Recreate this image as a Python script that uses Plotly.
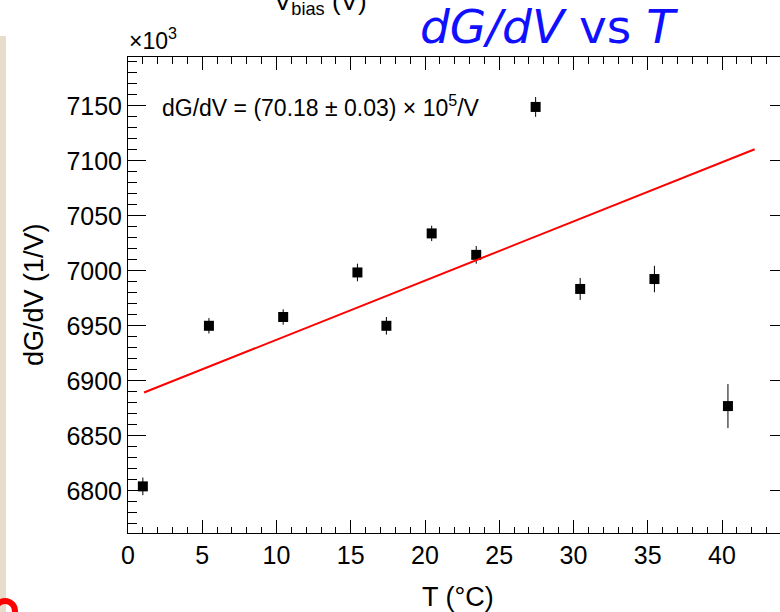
import plotly.graph_objects as go

# ---- data ----
temps = [1.0, 5.45, 10.45, 15.45, 17.4, 20.45, 23.45, 27.45, 30.45, 35.45, 40.4]
dgdv = [6804, 6950, 6958, 6998.5, 6950, 7034, 7014.5, 7149, 6983.5, 6992.5, 6877]
dgdv_err = [8, 7, 7, 8, 8, 7, 8, 9, 10, 12, 20]
fit_t = [1.08, 42.2]
fit_dgdv = [6889.3, 7110.5]
x_ticks = [0, 5, 10, 15, 20, 25, 30, 35, 40]
x_ticktext = [str(v) for v in x_ticks]
y_ticks = [6800, 6850, 6900, 6950, 7000, 7050, 7100, 7150]
y_ticktext = [str(v) for v in y_ticks]

# ---- layout helpers (pixel -> paper) ----
W, H = 780, 612
L, T, R, B = 128, 57, 780, 533
def px(x):
    return (x - L) / (R - L)
def py(y):
    return (B - y) / (B - T)

XR = [0, 43.906]
YR = [6761.6, 7194.4]
FONT = "Liberation Sans, Arial, sans-serif"

fig = go.Figure()
fig.add_trace(go.Scatter(
    x=temps, y=dgdv, mode="markers",
    marker=dict(symbol="square", size=10, color="black"),
    error_y=dict(type="data", array=dgdv_err, visible=True, color="black", thickness=1, width=0),
    showlegend=False, hoverinfo="x+y"))
fig.add_trace(go.Scatter(
    x=fit_t, y=fit_dgdv, mode="lines", xaxis="x2", yaxis="y2",
    line=dict(color="#ff0000", width=2), showlegend=False))

axis_common = dict(showgrid=False, zeroline=False, linecolor="black", linewidth=1,
                   tickcolor="black", tickwidth=1)
fig.update_layout(
    width=W, height=H, template="none",
    paper_bgcolor="white", plot_bgcolor="white",
    margin=dict(l=L, r=W - R, t=T, b=H - B, pad=0),
    font=dict(family=FONT, color="black"),
    xaxis=dict(range=XR, showline=True, ticks="inside", ticklen=13,
               tickvals=x_ticks, ticktext=x_ticktext, tickfont=dict(size=25, family=FONT),
               minor=dict(ticks="inside", ticklen=6, dtick=1, tick0=0, tickcolor="black", showgrid=False),
               **axis_common),
    xaxis2=dict(range=XR, overlaying="x", side="top", showline=True, ticks="inside", ticklen=13,
                tickvals=x_ticks, showticklabels=False,
                minor=dict(ticks="inside", ticklen=7, dtick=1, tick0=0, tickcolor="black", showgrid=False),
                **axis_common),
    yaxis=dict(range=YR, showline=True, ticks="inside", ticklen=18,
               tickvals=y_ticks, ticktext=y_ticktext, tickfont=dict(size=25, family=FONT),
               minor=dict(ticks="inside", ticklen=9, dtick=10, tick0=6800, tickcolor="black", showgrid=False),
               **axis_common),
    yaxis2=dict(range=YR, overlaying="y", side="right", showline=False, ticks="inside", ticklen=10,
                tickvals=y_ticks, showticklabels=False, **axis_common),
)

ann = []
ann.append(dict(text="dG/dV = (70.18 \u00b1 0.03) \u00d7 10<sup>5</sup>/V", x=px(160), y=py(106),
                xref="paper", yref="paper", xanchor="left", yanchor="middle", showarrow=False,
                font=dict(size=23, family=FONT, color="black")))
ann.append(dict(text="\u00d710<sup>3</sup>", x=px(127), y=py(56), xref="paper", yref="paper",
                xanchor="left", yanchor="bottom", showarrow=False,
                font=dict(size=23, family=FONT, color="black")))
ann.append(dict(text="T (\u00b0C)", x=px(458), y=py(597), xref="paper", yref="paper",
                xanchor="center", yanchor="middle", showarrow=False,
                font=dict(size=27, family=FONT, color="black")))
ann.append(dict(text="dG/dV (1/V)", x=px(34), y=py(295), xref="paper", yref="paper",
                xanchor="center", yanchor="middle", showarrow=False, textangle=-90,
                font=dict(size=27, family=FONT, color="black")))
ann.append(dict(text="<i>dG/dV</i> vs <i>T</i>", x=px(549), y=py(26), xref="paper", yref="paper",
                xanchor="center", yanchor="middle", showarrow=False,
                font=dict(size=47, family="DejaVu Sans, sans-serif", color="#1010ff")))
ann.append(dict(text="V<sub>bias</sub> (V)", x=px(320), y=py(3), xref="paper", yref="paper",
                xanchor="center", yanchor="middle", showarrow=False,
                font=dict(size=26, family=FONT, color="black")))
fig.update_layout(annotations=ann)

shapes = [
    dict(type="rect", xref="paper", yref="paper", x0=px(0), x1=px(6), y0=py(612), y1=py(36),
         fillcolor="#e8dccb", line=dict(width=0), layer="below"),
    dict(type="circle", xref="paper", yref="paper", x0=px(-5), x1=px(15), y0=py(621), y1=py(601),
         line=dict(color="#ff0000", width=6)),
]
fig.update_layout(shapes=shapes)

fig.write_html("out.html")
